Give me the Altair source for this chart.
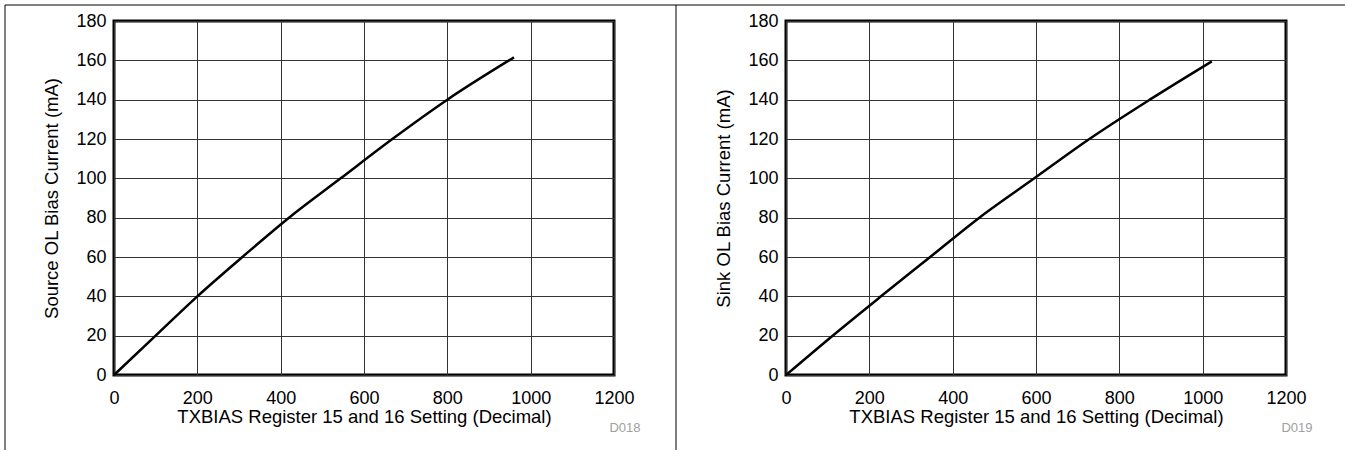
import altair as alt
import pandas as pd

# ---- data ----
x_ticks = [0, 200, 400, 600, 800, 1000, 1200]
y_ticks = [0, 20, 40, 60, 80, 100, 120, 140, 160, 180]

src_setting = [0, 100, 200, 308, 420, 544, 668, 800, 960]
src_current = [0, 20, 40, 60, 80, 100, 120, 140, 161.5]

sink_setting = [0, 112, 228, 346, 464, 596, 728, 873, 1022]
sink_current = [0, 20, 40, 60, 80, 100, 120, 140, 159.5]

x_title = "TXBIAS Register 15 and 16 Setting (Decimal)"
left_ytitle = "Source OL Bias Current (mA)"
right_ytitle = "Sink OL Bias Current (mA)"
left_code = "D018"
right_code = "D019"

FONT = "Liberation Sans"
W, H = 500, 354


def panel(xs, ys, ytitle, code, with_borders):
    df = pd.DataFrame({"setting": xs, "current": ys})
    line = alt.Chart(df).mark_line(color="black", strokeWidth=2.5, interpolate="monotone").encode(
        x=alt.X("setting:Q", title=x_title,
                scale=alt.Scale(domain=[0, 1200], nice=False, zero=False),
                axis=alt.Axis(values=x_ticks, format="d", labelPadding=14, titlePadding=0)),
        y=alt.Y("current:Q", title=ytitle,
                scale=alt.Scale(domain=[0, 180], nice=False),
                axis=alt.Axis(values=y_ticks, format="d", labelPadding=8, titlePadding=14)),
    )
    one = alt.Data(values=[{}])
    label = alt.Chart(one).mark_text(
        text=code, font=FONT, fontSize=13, color="#a0a0a0", align="center", baseline="middle"
    ).encode(x=alt.value(511), y=alt.value(407))
    layers = [line, label]
    if with_borders:
        top = alt.Chart(one).mark_rule(color="black", strokeWidth=1).encode(
            x=alt.value(-109), x2=alt.value(1231), y=alt.value(-16))
        lft = alt.Chart(one).mark_rule(color="black", strokeWidth=1).encode(
            x=alt.value(-109), y=alt.value(-16), y2=alt.value(429))
        mid = alt.Chart(one).mark_rule(color="black", strokeWidth=1).encode(
            x=alt.value(562), y=alt.value(-16), y2=alt.value(429))
        layers += [top, lft, mid]
    return alt.layer(*layers).properties(width=W, height=H)


left = panel(src_setting, src_current, left_ytitle, left_code, True)
right = panel(sink_setting, sink_current, right_ytitle, right_code, False)

chart = alt.hconcat(left, right, spacing=172, bounds="flush").properties(
    padding={"left": 3, "top": 3, "right": 0, "bottom": 0},
    background="white",
).configure_view(
    stroke="black", strokeWidth=3
).configure_axis(
    labelFont=FONT, labelFontSize=18, labelColor="black",
    titleFont=FONT, titleFontSize=18.5, titleFontWeight="normal", titleColor="black",
    grid=True, gridColor="#333333", gridOpacity=1, gridWidth=1,
    domain=False, ticks=False, labelFlush=False, labelOverlap=False,
)

chart.save("out.html", embed_options={"renderer": "svg", "actions": False})
